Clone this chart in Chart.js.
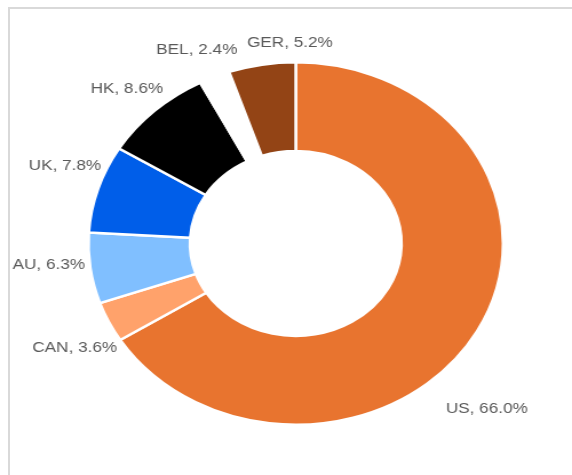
<!DOCTYPE html>
<html>
<head>
<meta charset="utf-8">
<script src="https://cdn.jsdelivr.net/npm/chart.js@4"></script>
<style>
  html, body { margin: 0; padding: 0; background: #fff; }
  body { width: 572px; height: 475px; position: relative; overflow: hidden; }
  .frame {
    position: absolute; left: 8px; top: 7px; right: 0; bottom: 0;
    border-left: 2px solid #d9d9d9; border-top: 2px solid #d9d9d9;
  }
  /* the reference picture is stretched sideways, so the canvas is too */
  .stretch {
    position: absolute; left: 0; top: 0; width: 500px; height: 475px;
    transform: scaleX(1.144); transform-origin: 0 0;
  }
</style>
</head>
<body>
<div class="frame"></div>
<div class="stretch"><canvas id="chart" width="500" height="475"></canvas></div>
<script>
// countries, clockwise from 12 o'clock
const countries = ['US', 'CAN', 'AU', 'UK', 'HK', 'BEL', 'GER'];
const shares = [66.0, 3.6, 6.3, 7.8, 8.6, 2.4, 5.2];
const sliceColors = ['#e8742f', '#ffa26b', '#80bfff', '#005ee9', '#000000', '#ffffff', '#934415'];
// small label nudges [degrees, px] where the labels were moved apart
const labelNudge = [[17, 19], [-4, 0], [2, 0], [4, 0], [0, 0], [0, 0], [8, -10]];

const labelPlugin = {
  id: 'outsideLabels',
  afterDatasetsDraw(chart) {
    const ctx = chart.ctx;
    const meta = chart.getDatasetMeta(0);
    ctx.save();
    ctx.font = '15px "Liberation Sans", Arial, sans-serif';
    ctx.fillStyle = '#595959';
    ctx.textAlign = 'center';
    ctx.textBaseline = 'middle';
    meta.data.forEach((arc, i) => {
      const p = arc.getProps(['x', 'y', 'startAngle', 'endAngle', 'outerRadius'], true);
      const a = (p.startAngle + p.endAngle) / 2 + labelNudge[i][0] * Math.PI / 180;
      const cos = Math.cos(a), sin = Math.sin(a);
      const text = countries[i] + ', ' + shares[i].toFixed(1) + '%';
      const w = ctx.measureText(text).width;
      const extra = labelNudge[i][1];
      const x = p.x + (p.outerRadius + 4 + extra) * cos + cos * w / 2;
      const y = p.y + (p.outerRadius + 22 + extra) * sin + sin * 7.5;
      ctx.fillText(text, x, y);
    });
    ctx.restore();
  }
};

new Chart(document.getElementById('chart'), {
  type: 'doughnut',
  data: {
    labels: countries,
    datasets: [{
      data: shares,
      backgroundColor: sliceColors,
      borderColor: '#ffffff',
      borderWidth: 2.5
    }]
  },
  options: {
    responsive: false,
    devicePixelRatio: 1,
    animation: false,
    cutout: '51%',
    layout: { padding: { left: 76, top: 61, right: 59, bottom: 49 } },
    plugins: {
      legend: { display: false },
      tooltip: { enabled: false }
    }
  },
  plugins: [labelPlugin]
});
</script>
</body>
</html>
